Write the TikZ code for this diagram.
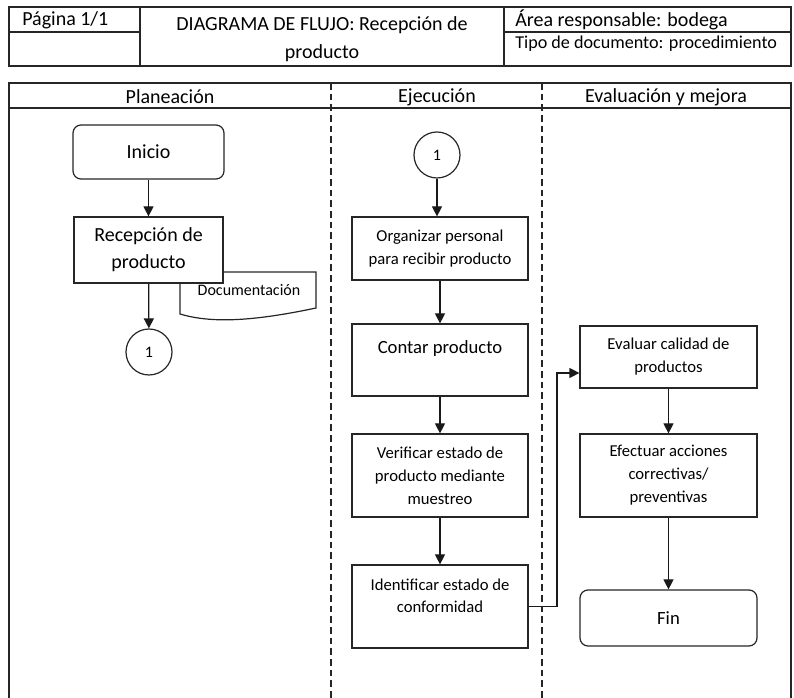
\documentclass[tikz,border=0pt]{standalone}
\usepackage{fontspec}
\setmainfont{Carlito}
\usetikzlibrary{arrows.meta,calc}
\newcommand\fsz[2]{\fontsize{#1}{#2}\selectfont}
\tikzset{
  frame/.style={line width=1.2pt, draw=black!85},
  lane/.style={line width=1pt, draw=black!85, dash pattern=on 5pt off 3pt},
  proc/.style={draw=black!85, line width=0.9pt, fill=white, align=center, inner sep=0pt,
               minimum width=132pt, font=\fsz{12.5}{17.25}},
  term/.style={proc, rounded corners=6pt},
  conn/.style={draw=black!85, line width=0.9pt, circle, fill=white, minimum size=34.5pt,
               inner sep=0pt, font=\fsz{12}{14}},
  arr/.style={draw=black!90, line width=0.9pt, -{Triangle[length=7.5pt,width=7.5pt]}},
  hdr/.style={font=\fsz{15}{21}, inner sep=0pt},
}
\begin{document}
\begin{tikzpicture}[x=0.75pt,y=-0.75pt]
\useasboundingbox (0,0) rectangle (794,698);

% document header table
\draw[frame] (9,7) rectangle (791,66);
\draw[frame] (140,7) -- (140,66) (504,7) -- (504,66);
\draw[frame] (9,32) -- (140,32) (504,32) -- (791,32);
\node[hdr, anchor=west] (pag) at (22,20) {Página 1/1};
\node[hdr, align=center] (title) at (322,39) {DIAGRAMA DE FLUJO: Recepción de\\producto};
\node[hdr, anchor=west] (area) at (515,20) {Área responsable: bodega};
\node[hdr, anchor=west, font=\fsz{13.6}{18}] (tipo) at (515,44) {Tipo de documento: procedimiento};

% swimlanes
\draw[frame] (9,698) -- (9,83) -- (791,83) -- (791,698);
\draw[frame] (9,108) -- (791,108);
\draw[lane] (331,83) -- (331,698);
\draw[lane] (542,83) -- (542,698);
\node[hdr] (l1) at (170,97) {Planeación};
\node[hdr] (l2) at (437,97) {Ejecución};
\node[hdr] (l3) at (666,97) {Evaluación y mejora};

% Planeación
\node[term, minimum width=113.25pt, minimum height=40.5pt, font=\fsz{15}{20.25}] (ini) at (148.5,152) {Inicio};
\draw[draw=black!85, line width=0.9pt, fill=white] (180,272) -- (180,314)
  .. controls (210,323) and (250,322) .. (316,308) -- (316,272) -- cycle;
\node[font=\fsz{12}{14}, inner sep=0pt] (doc) at (249,290) {Documentación};
\node[proc, minimum width=111.75pt, minimum height=49.5pt, font=\fsz{15}{20.25}] (rec) at (148.5,250) {Recepción de\\producto};
\node[conn] (c1) at (149,352) {1};

% Ejecución
\node[conn] (c2) at (437,155) {1};
\node[proc, minimum height=47.25pt] (org) at (440,248.5) {Organizar personal\\para recibir producto};
\node[proc, minimum height=54pt, font=\fsz{14}{19}] (con) at (440,360) {Contar producto\\\mbox{}};
\node[proc, minimum height=62.25pt] (ver) at (440,475.5) {Verificar estado de\\producto mediante\\muestreo};
\node[proc, minimum height=62.25pt, font=\fsz{12.5}{16.5}] (ide) at (440,606.5) {\rule{0pt}{8pt}Identificar estado de\\conformidad\\\mbox{}};

% Evaluación y mejora
\node[proc, minimum width=132.75pt, minimum height=46.5pt] (eva) at (668.5,357) {Evaluar calidad de\\productos};
\node[proc, minimum width=132.75pt, minimum height=62.25pt] (efe) at (668.5,475.5) {Efectuar acciones\\correctivas/\\preventivas};
\node[term, minimum width=132.75pt, minimum height=42pt, font=\fsz{14}{19}] (fin) at (668.5,618) {Fin};

% connectors
\draw[arr] (ini) -- (rec);
\draw[arr] (rec) -- (c1);
\draw[arr] (c2.south) -- (c2.south |- org.north);
\draw[arr] (org) -- (con);
\draw[arr] (con) -- (ver);
\draw[arr] (ver) -- (ide);
\coordinate (bend) at (557,373);
\draw[arr] (ide.east) -| (bend) -- (bend -| eva.west);
\draw[arr] (eva) -- (efe);
\draw[arr] (efe) -- (fin);
\end{tikzpicture}
\end{document}
